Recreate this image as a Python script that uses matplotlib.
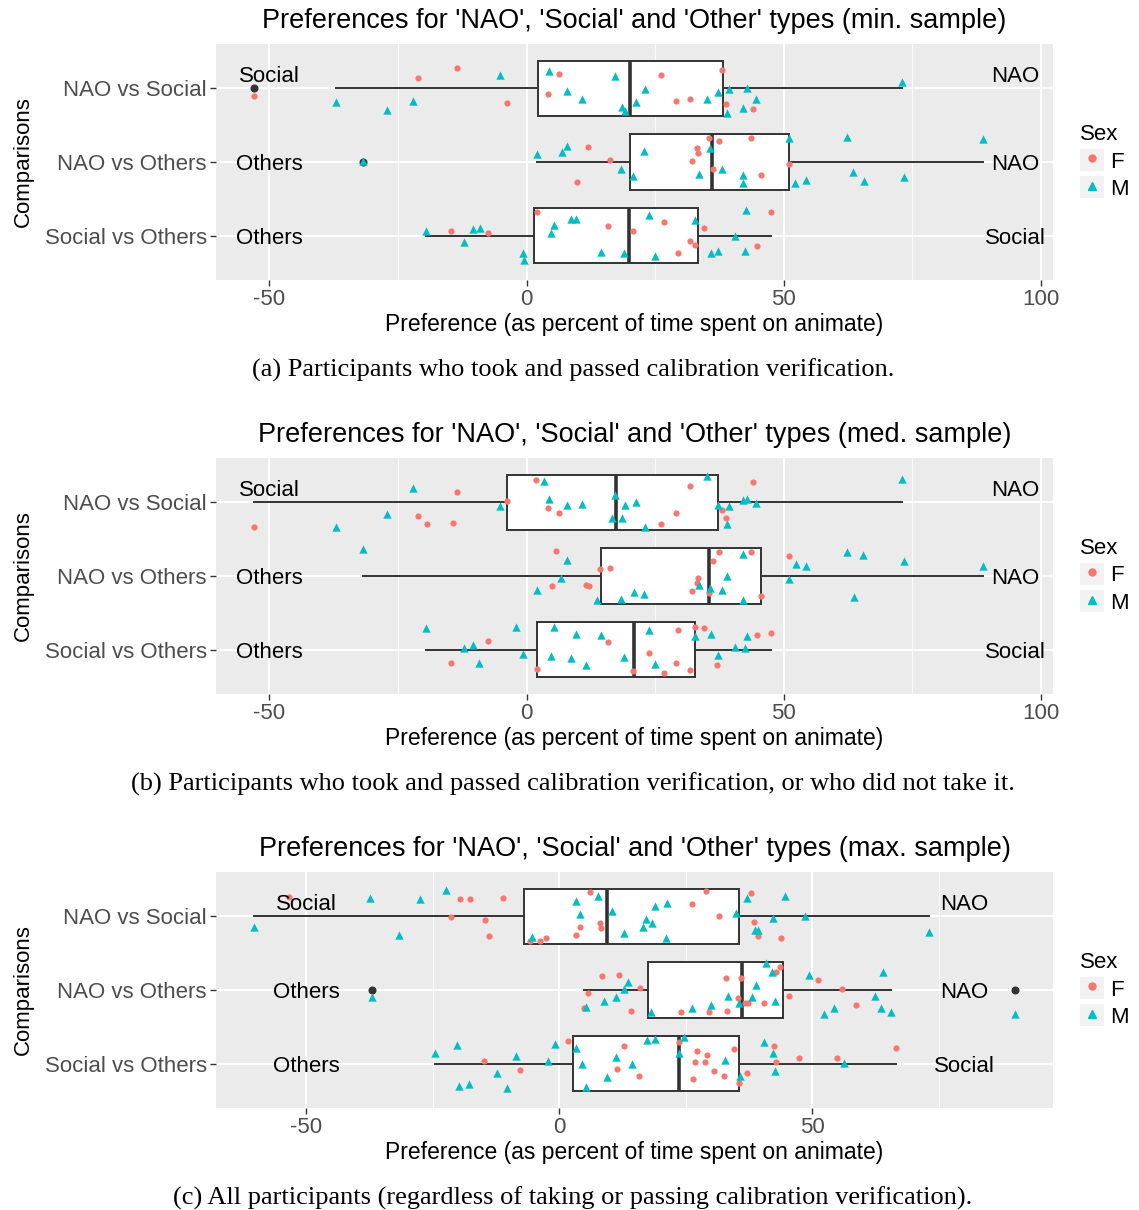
import matplotlib
matplotlib.use("Agg")
import matplotlib.pyplot as plt
from matplotlib.lines import Line2D
from matplotlib.patches import Rectangle
from matplotlib.legend_handler import HandlerTuple

plt.rcParams['font.family'] = ['Liberation Sans', 'DejaVu Sans']
plt.rcParams['axes.unicode_minus'] = False

# rows from top to bottom
comparisons = ["NAO vs Social", "NAO vs Others", "Social vs Others"]
left_labels = ["Social", "Others", "Others"]
right_labels = ["NAO", "NAO", "Social"]

# points: (preference %, sex, vertical jitter)
min_nao_social = [
    (-53.0, 'F', -0.11), (-37.0, 'M', -0.18), (-21.2, 'F', 0.14), (-13.5, 'F', 0.28),
    (-5.1, 'M', 0.18), (-27.2, 'M', -0.29), (-22.0, 'M', -0.17), (-3.75, 'F', -0.20),
    (4.3, 'M', 0.24), (6.3, 'F', 0.19), (4.2, 'F', -0.08), (7.8, 'M', -0.04),
    (10.7, 'M', -0.15), (17.3, 'M', 0.17), (18.5, 'M', -0.26), (19.1, 'M', -0.31),
    (23.0, 'M', -0.01), (21.2, 'M', -0.19), (26.2, 'F', 0.18), (29.1, 'F', -0.17),
    (31.7, 'F', -0.15), (35.1, 'M', -0.15), (37.2, 'M', -0.05), (38.0, 'F', 0.25),
    (39.4, 'M', -0.01), (42.8, 'M', 0.0), (38.7, 'F', -0.22), (38.9, 'M', -0.33),
    (42.2, 'M', -0.27), (44.0, 'F', -0.28), (44.6, 'M', -0.15), (73.1, 'M', 0.09),
]
min_nao_others = [
    (-31.9, 'M', 0.02), (2.1, 'M', 0.11), (6.9, 'M', 0.14), (7.9, 'M', 0.22),
    (12.0, 'F', 0.21), (16.2, 'F', 0.03), (9.9, 'F', -0.27), (18.4, 'M', -0.09),
    (20.7, 'M', -0.19), (22.9, 'M', 0.15), (35.4, 'F', 0.33), (37.4, 'F', 0.29),
    (33.2, 'F', 0.19), (33.4, 'F', 0.12), (32.2, 'F', 0.02), (35.6, 'M', 0.19),
    (36.3, 'F', -0.09), (38.0, 'M', -0.09), (33.6, 'M', -0.16), (43.6, 'F', 0.32),
    (42.2, 'M', -0.17), (42.1, 'M', -0.28), (45.6, 'F', -0.18), (51.0, 'M', 0.32),
    (51.1, 'F', -0.03), (52.3, 'M', -0.28), (54.4, 'M', -0.25), (62.4, 'M', 0.34),
    (63.5, 'M', -0.14), (65.6, 'M', -0.26), (73.5, 'M', -0.20), (88.7, 'M', 0.31),
]
min_social_others = [
    (-19.5, 'M', 0.07), (-14.6, 'F', 0.07), (-10.4, 'M', 0.09), (-9.1, 'M', 0.10),
    (-7.4, 'F', 0.04), (-12.1, 'M', -0.09), (-0.7, 'M', -0.24), (-0.45, 'M', -0.33),
    (2.1, 'F', 0.32), (5.4, 'M', 0.14), (4.7, 'M', 0.04), (8.6, 'M', 0.23),
    (9.7, 'M', 0.23), (15.8, 'F', 0.13), (14.5, 'M', -0.22), (18.9, 'M', -0.24),
    (20.7, 'F', 0.07), (23.9, 'M', 0.28), (24.9, 'M', -0.28), (26.7, 'F', 0.19),
    (29.4, 'F', -0.24), (31.7, 'F', -0.07), (32.7, 'F', -0.12), (32.8, 'M', 0.21),
    (34.6, 'F', 0.11), (40.6, 'M', 0.0), (42.7, 'M', 0.35), (47.5, 'F', 0.32),
    (35.8, 'M', -0.24), (37.2, 'M', -0.21), (42.4, 'M', -0.21), (44.8, 'F', -0.14),
]

med_nao_social = [
    (-53.0, 'F', -0.33), (-37.0, 'M', -0.33), (-27.2, 'M', -0.16), (-22.0, 'M', 0.19),
    (-21.2, 'F', -0.18), (-19.4, 'F', -0.30), (-13.5, 'F', 0.14), (-14.3, 'F', -0.28),
    (-5.2, 'M', -0.05), (-3.75, 'F', 0.02), (1.9, 'F', 0.30), (3.4, 'M', 0.29),
    (4.3, 'M', 0.05), (4.2, 'F', -0.08), (6.3, 'F', -0.14), (7.8, 'M', -0.04),
    (10.7, 'M', -0.02), (17.3, 'M', 0.10), (16.6, 'M', -0.22), (18.5, 'M', -0.22),
    (19.1, 'M', -0.04), (21.2, 'M', 0.01), (23.0, 'M', -0.33), (26.2, 'F', -0.30),
    (29.1, 'F', -0.14), (31.7, 'F', 0.22), (35.1, 'M', 0.35), (37.2, 'M', -0.04),
    (38.0, 'F', -0.10), (38.7, 'F', -0.21), (38.9, 'M', -0.30), (39.4, 'M', -0.05),
    (42.2, 'M', 0.03), (42.8, 'M', 0.05), (44.6, 'M', -0.01), (44.0, 'F', 0.27),
    (73.1, 'M', 0.31),
]
med_nao_others = [
    (-31.8, 'M', 0.36), (5.8, 'F', 0.34), (7.9, 'M', 0.22), (6.8, 'M', -0.03),
    (2.1, 'M', -0.19), (5.0, 'F', -0.14), (11.6, 'F', -0.12), (12.1, 'F', -0.14),
    (13.7, 'M', -0.32), (14.2, 'F', 0.09), (16.2, 'F', 0.11), (18.3, 'M', -0.31),
    (20.9, 'M', -0.22), (22.9, 'M', -0.24), (37.4, 'F', 0.32), (36.3, 'F', 0.21),
    (42.2, 'M', 0.30), (43.6, 'F', 0.32), (39.0, 'M', 0.0), (33.4, 'F', -0.03),
    (33.6, 'M', -0.12), (33.2, 'F', -0.10), (32.2, 'F', -0.21), (35.6, 'M', -0.16),
    (35.4, 'F', -0.23), (38.0, 'M', -0.19), (42.1, 'M', -0.32), (45.6, 'F', -0.27),
    (51.1, 'F', 0.27), (52.4, 'M', 0.16), (54.4, 'M', 0.14), (51.1, 'M', -0.04),
    (62.4, 'M', 0.32), (65.5, 'M', 0.29), (73.5, 'M', 0.21), (63.6, 'M', -0.29),
    (88.7, 'M', 0.13),
]
med_social_others = [
    (-19.5, 'M', 0.29), (-2.1, 'M', 0.31), (-7.4, 'F', 0.12), (-12.2, 'M', 0.03),
    (-10.4, 'M', 0.06), (-14.6, 'F', -0.18), (-9.3, 'M', -0.18), (-0.65, 'M', -0.06),
    (2.1, 'F', -0.26), (5.4, 'M', 0.31), (4.7, 'M', -0.09), (9.7, 'M', 0.22),
    (8.6, 'M', -0.11), (11.5, 'M', -0.20), (14.5, 'M', 0.20), (15.8, 'F', 0.11),
    (19.0, 'M', -0.10), (20.7, 'F', -0.29), (23.9, 'M', 0.27), (23.9, 'F', -0.05),
    (24.9, 'M', -0.19), (29.4, 'F', 0.27), (29.0, 'F', -0.18), (26.7, 'F', -0.32),
    (31.7, 'F', -0.28), (32.7, 'F', 0.31), (32.8, 'M', 0.19), (34.6, 'F', 0.30),
    (35.8, 'M', 0.21), (37.2, 'M', -0.07), (37.1, 'F', -0.21), (40.6, 'M', 0.04),
    (42.4, 'M', 0.03), (42.8, 'M', 0.18), (44.8, 'F', 0.20), (47.5, 'F', 0.23),
]

max_nao_social = [
    (-60.3, 'M', -0.14), (-53.3, 'F', 0.26), (-37.4, 'M', 0.25), (-31.7, 'M', -0.26),
    (-27.6, 'M', 0.23), (-22.3, 'M', 0.35), (-19.7, 'F', 0.23), (-17.7, 'F', 0.24),
    (-21.4, 'F', -0.01), (-14.6, 'F', -0.05), (-13.8, 'F', -0.27), (-11.2, 'F', 0.25),
    (-5.3, 'M', -0.28), (-5.7, 'F', -0.33), (-3.9, 'F', -0.33), (-2.6, 'F', -0.30),
    (3.2, 'M', 0.21), (6.1, 'F', 0.33), (7.6, 'M', 0.28), (4.1, 'M', 0.03),
    (8.0, 'F', -0.09), (8.3, 'F', -0.16), (4.1, 'F', -0.14), (3.3, 'F', -0.26),
    (10.5, 'M', 0.07), (12.8, 'M', -0.23), (17.2, 'M', -0.04), (16.5, 'M', -0.14),
    (18.4, 'M', -0.09), (18.9, 'M', 0.14), (21.3, 'M', 0.18), (21.1, 'M', -0.30),
    (26.2, 'F', 0.16), (29.0, 'F', 0.34), (31.6, 'F', 0.01), (34.9, 'M', 0.05),
    (37.0, 'M', 0.25), (37.9, 'F', 0.32), (38.5, 'F', -0.08), (38.7, 'M', -0.18),
    (39.3, 'M', -0.19), (39.3, 'F', -0.27), (42.3, 'M', -0.03), (43.8, 'F', -0.30),
    (44.5, 'M', 0.28), (48.5, 'M', 0.01), (73.0, 'M', -0.21),
]
max_nao_others = [
    (-37.0, 'M', -0.10), (4.8, 'F', -0.24), (5.3, 'M', -0.23), (5.7, 'F', -0.04),
    (8.4, 'F', 0.19), (11.8, 'F', 0.20), (8.8, 'M', -0.15), (11.1, 'M', -0.10),
    (13.6, 'M', 0.11), (12.8, 'M', 0.02), (14.2, 'F', -0.29), (16.0, 'F', 0.03),
    (18.2, 'M', -0.30), (24.1, 'F', -0.30), (26.2, 'M', -0.24), (29.6, 'F', -0.30),
    (30.0, 'M', -0.20), (33.2, 'F', -0.29), (33.4, 'M', -0.08), (33.0, 'F', 0.16),
    (35.9, 'F', 0.16), (35.3, 'F', -0.11), (35.5, 'M', -0.18), (36.6, 'F', -0.18),
    (37.2, 'F', -0.18), (38.0, 'M', -0.10), (38.9, 'M', 0.07), (40.9, 'M', 0.36),
    (42.0, 'M', 0.25), (42.8, 'F', 0.24), (43.5, 'F', 0.31), (40.5, 'F', -0.18),
    (42.6, 'M', -0.15), (45.4, 'F', -0.08), (49.3, 'M', 0.20), (51.0, 'F', 0.13),
    (55.8, 'F', 0.01), (52.3, 'M', -0.33), (54.2, 'M', -0.24), (58.7, 'F', -0.20),
    (62.4, 'M', -0.08), (63.9, 'M', 0.24), (63.5, 'M', -0.25), (65.6, 'M', -0.30),
    (90.0, 'M', -0.32),
]
max_social_others = [
    (-24.5, 'M', 0.15), (-20.2, 'M', 0.26), (-19.9, 'M', -0.30), (-17.9, 'M', -0.28),
    (-14.9, 'F', 0.04), (-12.4, 'M', -0.12), (-10.3, 'M', -0.33), (-8.5, 'M', 0.11),
    (-7.7, 'F', -0.08), (-2.3, 'M', 0.04), (-0.8, 'M', 0.27), (1.8, 'F', 0.31),
    (3.3, 'M', 0.22), (4.5, 'M', -0.01), (5.3, 'M', -0.31), (12.7, 'F', 0.24),
    (11.2, 'M', 0.09), (11.4, 'F', -0.07), (14.4, 'M', -0.01), (9.4, 'M', -0.18),
    (15.7, 'F', -0.16), (17.3, 'M', 0.32), (18.9, 'M', 0.34), (23.7, 'F', 0.29),
    (24.7, 'M', 0.36), (23.7, 'M', 0.15), (27.2, 'F', 0.17), (29.2, 'F', 0.12),
    (26.8, 'F', 0.02), (28.8, 'F', 0.02), (30.5, 'F', -0.10), (26.5, 'F', -0.20),
    (32.6, 'F', -0.17), (32.7, 'M', 0.05), (34.6, 'F', 0.20), (35.7, 'M', -0.16),
    (35.4, 'F', -0.26), (37.0, 'F', -0.13), (40.5, 'M', 0.29), (42.5, 'F', 0.24),
    (42.3, 'M', 0.15), (42.8, 'F', 0.02), (42.6, 'M', -0.10), (47.4, 'F', 0.08),
    (54.9, 'F', 0.08), (56.2, 'M', 0.01), (66.6, 'F', 0.21),
]

# box statistics per row (top to bottom)
min_lo = [-37.0, 2.1, -19.5]
min_q1 = [2.3, 20.1, 1.4]
min_med = [20.1, 36.0, 19.9]
min_q3 = [38.3, 51.1, 33.4]
min_hi = [73.1, 88.7, 47.5]
min_out = [[-53.0], [-31.9], []]

med_lo = [-53.0, -31.8, -19.5]
med_q1 = [-3.75, 14.4, 2.1]
med_med = [17.4, 35.4, 20.9]
med_q3 = [37.2, 45.6, 32.8]
med_hi = [73.1, 88.7, 47.5]
med_out = [[], [], []]

max_lo = [-60.3, 4.8, -24.5]
max_q1 = [-7.0, 17.6, 2.8]
max_med = [9.4, 36.0, 23.7]
max_q3 = [35.5, 44.1, 35.5]
max_hi = [73.0, 65.6, 66.6]
max_out = [[], [-37.0, 90.0], []]

# x position of the in-panel group labels
min_label_x = [-50, 95]
med_label_x = [-50, 95]
max_label_x = [-50, 80]

titles = ["Preferences for 'NAO', 'Social' and 'Other' types (min. sample)",
          "Preferences for 'NAO', 'Social' and 'Other' types (med. sample)",
          "Preferences for 'NAO', 'Social' and 'Other' types (max. sample)"]
captions = ["(a) Participants who took and passed calibration verification.",
            "(b) Participants who took and passed calibration verification, or who did not take it.",
            "(c) All participants (regardless of taking or passing calibration verification)."]

sex_colors = {'F': '#F8766D', 'M': '#00BFC4'}
sex_markers = {'F': 'o', 'M': '^'}
sex_sizes = {'F': 20, 'M': 36}
FS = 16
W, H = 1139, 1210


def draw_panel(ax, rows, lo, q1, med, q3, hi, out, label_x, title):
    ypos = [3, 2, 1]
    stats = []
    for i in range(3):
        stats.append(dict(whislo=lo[i], q1=q1[i], med=med[i], q3=q3[i],
                          whishi=hi[i], fliers=out[i]))
    ax.bxp(stats, positions=ypos, vert=False, widths=0.75, patch_artist=True,
           showcaps=False,
           boxprops=dict(facecolor='white', edgecolor='#333333', linewidth=1.4),
           whiskerprops=dict(color='#333333', linewidth=1.4),
           medianprops=dict(color='#333333', linewidth=2.6),
           flierprops=dict(marker='o', markerfacecolor='#333333',
                           markeredgecolor='#333333', markersize=4.8),
           zorder=2)

    for row, y in zip(rows, ypos):
        for sex in ['F', 'M']:
            xs = [p[0] for p in row if p[1] == sex]
            ys = [y + p[2] for p in row if p[1] == sex]
            ax.scatter(xs, ys, s=sex_sizes[sex], marker=sex_markers[sex],
                       color=sex_colors[sex], linewidths=0, zorder=3)

    # group labels (first row sits a bit higher)
    for i, y in enumerate(ypos):
        dy = 0.2 if i == 0 else 0.0
        ax.text(label_x[0], y + dy, left_labels[i], ha='center',
                va='center_baseline', fontsize=FS)
        ax.text(label_x[1], y + dy, right_labels[i], ha='center',
                va='center_baseline', fontsize=FS)

    allx = [p[0] for row in rows for p in row] + label_x
    span = max(allx) - min(allx)
    x0, x1 = min(allx) - 0.05 * span, max(allx) + 0.05 * span
    ax.set_xlim(x0, x1)
    ax.set_ylim(0.4, 3.6)

    major = [t for t in [-50, 0, 50, 100] if x0 < t < x1]
    minor = [t for t in [-75, -25, 25, 75] if x0 < t < x1]
    ax.set_xticks(major)
    ax.set_xticklabels([str(t) for t in major])
    ax.set_xticks(minor, minor=True)
    ax.set_yticks(ypos)
    ax.set_yticklabels(comparisons)

    ax.set_facecolor('#EBEBEB')
    for s in ax.spines.values():
        s.set_visible(False)
    ax.set_axisbelow(True)
    ax.grid(which='major', color='white', linewidth=1.3)
    ax.grid(which='minor', axis='x', color='white', linewidth=0.6)
    ax.tick_params(which='major', length=4, width=1.0, color='#333333',
                   labelsize=FS, labelcolor='#4D4D4D', pad=2.5)
    ax.tick_params(which='minor', length=0)

    ax.set_title(title, fontsize=19.5, pad=11.5)
    ax.set_xlabel("Preference (as percent of time spent on animate)", fontsize=16.5, labelpad=2.5)
    ax.set_ylabel("Comparisons", fontsize=FS, labelpad=8)

    handles = []
    for sex in ['F', 'M']:
        bg = Rectangle((0, 0), 1, 1, facecolor='#F2F2F2', edgecolor='none')
        mk = Line2D([], [], linestyle='none', marker=sex_markers[sex],
                    color=sex_colors[sex], markersize=5 if sex == 'F' else 6)
        handles.append((bg, mk))
    ax.legend(handles, ['F', 'M'], title='Sex', fontsize=FS, title_fontsize=FS,
              handler_map={tuple: HandlerTuple(ndivide=1, pad=0)},
              loc='center left', bbox_to_anchor=(1.032, 0.5), frameon=False,
              borderpad=0, borderaxespad=0, handlelength=1.1, handleheight=1.1,
              handletextpad=0.25, labelspacing=0.18, alignment='left')


fig = plt.figure(figsize=(W / 100, H / 100), dpi=100)

panel_tops = [44, 458, 872]
panel_h = 236
caption_y = [368, 782, 1196]

ax1 = fig.add_axes([216 / W, 1 - (panel_tops[0] + panel_h) / H, 837 / W, panel_h / H])
draw_panel(ax1, [min_nao_social, min_nao_others, min_social_others],
           min_lo, min_q1, min_med, min_q3, min_hi, min_out, min_label_x, titles[0])

ax2 = fig.add_axes([216 / W, 1 - (panel_tops[1] + panel_h) / H, 837 / W, panel_h / H])
draw_panel(ax2, [med_nao_social, med_nao_others, med_social_others],
           med_lo, med_q1, med_med, med_q3, med_hi, med_out, med_label_x, titles[1])

ax3 = fig.add_axes([216 / W, 1 - (panel_tops[2] + panel_h) / H, 837 / W, panel_h / H])
draw_panel(ax3, [max_nao_social, max_nao_others, max_social_others],
           max_lo, max_q1, max_med, max_q3, max_hi, max_out, max_label_x, titles[2])

for cap, cy in zip(captions, caption_y):
    fig.text(0.503, 1 - cy / H, cap, ha='center', va='center_baseline', fontsize=19,
             family='Liberation Serif')

fig.savefig('out.png', dpi=100)
